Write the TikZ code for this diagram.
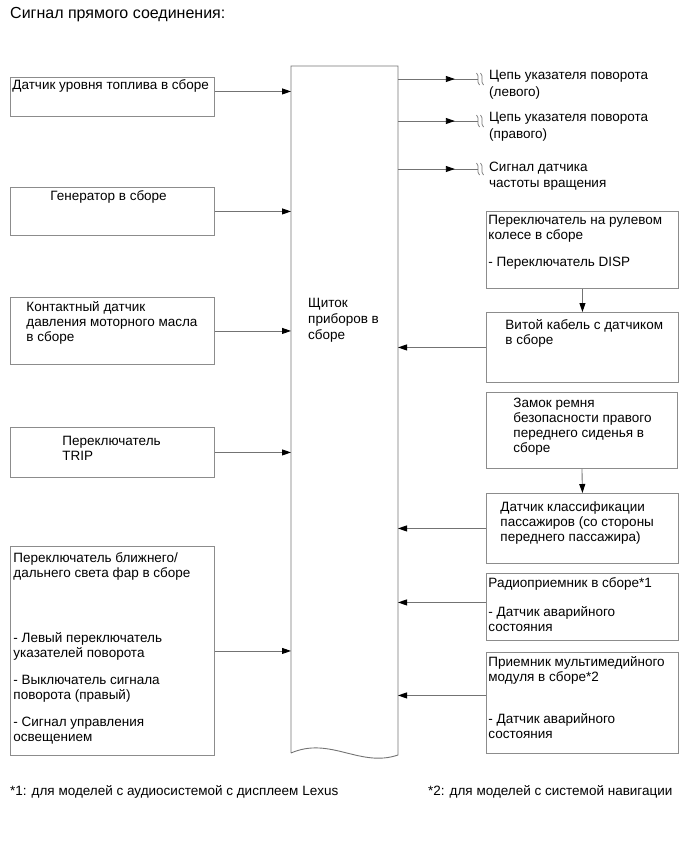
\documentclass[tikz,border=0pt]{standalone}
\usepackage{fontspec}
\setmainfont{Liberation Sans}
\usepackage{tikz}
\usetikzlibrary{arrows.meta,decorations.markings,positioning}

\definecolor{framegray}{gray}{0.55}
\definecolor{wiregray}{gray}{0.45}

% box text: width, height, left indent, top gap, text
\newcommand{\boxtext}[5]{\parbox[t][#2][t]{#1}{\raggedright\leftskip=#3\relax\vspace*{#4}#5}}

\begin{document}
\begin{tikzpicture}[
    x=1pt, y=-1pt,
    every node/.style={inner sep=0pt, font=\fontsize{13.5}{15}\selectfont},
    unit/.style={draw=framegray, line width=0.9pt, anchor=north west},
    outtext/.style={anchor=north west, align=left, font=\fontsize{13.5}{16.5}\selectfont},
    wire/.style={draw=wiregray, line width=0.9pt},
    link/.style={wire, -{Triangle[length=9pt,width=6pt,color=black]}},
    relay/.style={wire, postaction={decorate}, decoration={markings,
        mark=at position 0.71 with {\arrow{Triangle[length=9pt,width=6pt,color=black]}}}},
    breakmark/.pic={
        \draw[draw=wiregray, line width=0.7pt] (-1.5,-6) .. controls (2.5,-2) and (-2.5,2) .. (1.5,6);
        \draw[draw=wiregray, line width=0.7pt] (2.5,-6) .. controls (6.5,-2) and (1.5,2) .. (5.5,6);
    }
]
\useasboundingbox (0,0) rectangle (690,853);

% заголовок
\node[anchor=west, font=\fontsize{16}{19}\selectfont] (title) at (10,15) {Сигнал прямого соединения:};

% входы слева
\node[unit] (fuel) at (10,77) {\boxtext{204pt}{39pt}{2pt}{2.5pt}{Датчик уровня топлива в сборе}};
\node[unit] (gen) at (10,187) {\boxtext{204pt}{48pt}{40pt}{3.5pt}{Генератор в сборе}};
\node[unit] (oil) at (10,297) {\boxtext{204pt}{67pt}{16pt}{4.5pt}{Контактный датчик\\давления моторного масла\\в сборе}};
\node[unit] (trip) at (10,427) {\boxtext{204pt}{50pt}{52pt}{8.5pt}{Переключатель\\TRIP}};
\node[unit] (head) at (10,546) {\boxtext{204pt}{209pt}{3pt}{6.5pt}{Переключатель ближнего/\\дальнего света фар в сборе\\[50pt]- Левый переключатель\\указателей поворота\\[12pt]- Выключатель сигнала\\поворота (правый)\\[12pt]- Сигнал управления\\освещением}};

% щиток приборов
\coordinate (pnw) at (291,66);
\coordinate (pne) at (398,66);
\coordinate (psw) at (291,753);
\coordinate (pse) at (398,755);
\draw[wire] (psw) -- (pnw) -- (pne) -- (pse) .. controls (360,768) and (330,736) .. (psw);
\node[anchor=north west, align=left, font=\fontsize{13.5}{16}\selectfont] (panel) at (308,298) {Щиток\\приборов в\\сборе};

% входы справа
\node[unit] (wheel) at (486,211) {\boxtext{192pt}{77pt}{2pt}{3.5pt}{Переключатель на рулевом\\колесе в сборе\\[12pt]- Переключатель DISP}};
\node[unit] (spiral) at (486,312) {\boxtext{192pt}{70pt}{19pt}{7.5pt}{Витой кабель с датчиком\\в сборе}};
\node[unit] (buckle) at (486,392) {\boxtext{191pt}{76pt}{27pt}{5.5pt}{Замок ремня\\безопасности правого\\переднего сиденья в\\сборе}};
\node[unit] (occupant) at (486,493) {\boxtext{192pt}{70pt}{14pt}{8.5pt}{Датчик классификации\\пассажиров (со стороны\\переднего пассажира)}};
\node[unit] (radio) at (486,573) {\boxtext{192pt}{67pt}{2pt}{4.5pt}{Радиоприемник в сборе*1\\[14pt]- Датчик аварийного\\состояния}};
\node[unit] (media) at (486,652) {\boxtext{192pt}{101pt}{2pt}{4.5pt}{Приемник мультимедийного\\модуля в сборе*2\\[27pt]- Датчик аварийного\\состояния}};

% выходы
\coordinate (brk1) at (478,79);
\coordinate (brk2) at (478,121);
\coordinate (brk3) at (478,169);
\node[outtext] (turnl) at (489,70.5) {Цепь указателя поворота\\(левого)};
\node[outtext] (turnr) at (489,112.5) {Цепь указателя поворота\\(правого)};
\node[outtext] (speed) at (489,161.5) {Сигнал датчика\\частоты вращения};

% соединения
\coordinate (fuelout) at ([yshift=5.5pt]fuel.east);
\draw[link] (fuelout) -- (fuelout -| pnw);
\draw[link] (gen.east) -- (gen.east -| pnw);
\draw[link] (oil.east) -- (oil.east -| pnw);
\draw[link] (trip.east) -- (trip.east -| pnw);
\draw[link] (head.east) -- (head.east -| pnw);

\draw[link] (wheel.south) -- (spiral.north);
\draw[link] (buckle.south) -- (occupant.north);
\draw[link] (spiral.west) -- (spiral.west -| pne);
\draw[link] (occupant.west) -- (occupant.west -| pne);
\coordinate (radioin) at ([yshift=4.5pt]radio.west);
\draw[link] (radioin) -- (radioin -| pne);
\coordinate (mediain) at ([yshift=7.5pt]media.west);
\draw[link] (mediain) -- (mediain -| pne);

\draw[relay] (brk1 -| pne) -- (brk1);
\draw[relay] (brk2 -| pne) -- (brk2);
\draw[relay] (brk3 -| pne) -- (brk3);
\pic at (brk1) {breakmark};
\pic at (brk2) {breakmark};
\pic at (brk3) {breakmark};

% примечания
\node[anchor=west] (note1) at (10,792) {*1: для моделей с аудиосистемой с дисплеем Lexus};
\node[anchor=west] (note2) at (428,792) {*2: для моделей с системой навигации};

\end{tikzpicture}
\end{document}
